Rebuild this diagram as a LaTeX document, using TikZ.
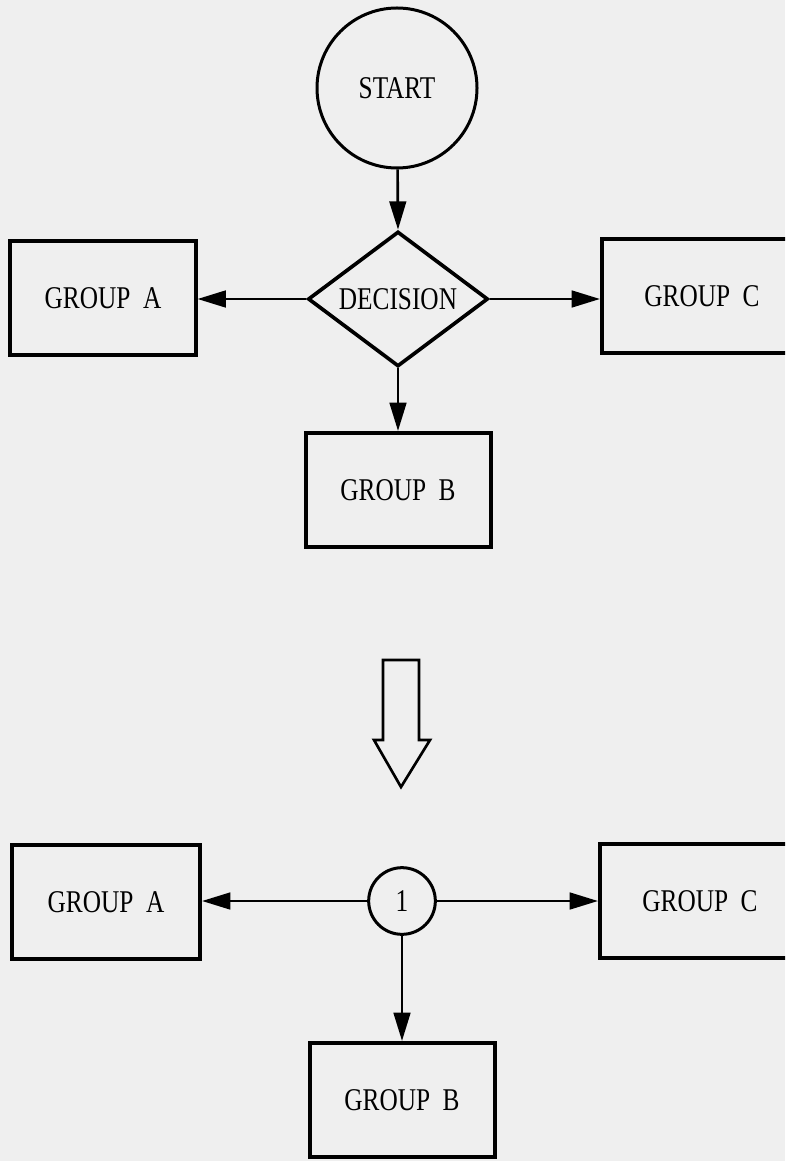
\documentclass[tikz,border=0pt]{standalone}
\usepackage{fontspec}
\setmainfont{Liberation Serif}
\newfontfamily\chartfont[FakeStretch=0.8]{Liberation Serif}
\usetikzlibrary{arrows.meta,positioning,shapes.geometric}
\definecolor{paper}{HTML}{EFEFEF}
\tikzset{group/.style={
  % The shape:
  rectangle,
  % The size:
  minimum width=5.55cm, minimum height=3.42cm,
  % The border:
  line width=1.2mm, draw=black,
  % Font:
  font=\chartfont\fontsize{27}{30}\selectfont,
  }
}
\tikzset{junction/.style={
  % The shape:
  circle,
  % The border:
  line width=0.9mm, draw=black,
  % Font:
  font=\chartfont\fontsize{27}{30}\selectfont,
  }
}
\tikzset{flow/.style={
  line width=0.8mm, -{Triangle[length=8.5mm,width=5mm]},
  }
}

\begin{document}
\begin{tikzpicture}[x=0.03cm,y=-0.03cm]
  \useasboundingbox (0,0) rectangle (785,1161);
  \fill[paper] (0,0) rectangle (785,1161);
  \clip (0,0) rectangle (785,1161);

  % Upper chart:
  \node (start) [junction,minimum size=4.8cm] at (397,88) {START};
  \node (decision) [diamond,draw,line width=1.1mm,inner sep=0pt,
        minimum width=5.4cm,minimum height=4.05cm,
        label={[font=\chartfont\fontsize{27}{30}\selectfont]center:DECISION}] at (398,299) {};
  \node (ga1) [group] at (103,298) {GROUP\ \ A};
  \node (gc1) [group,minimum width=6cm] at (702,296) {GROUP\ \ C};
  \node (gb1) [group] at (398,490) {GROUP\ \ B};

  \draw[flow] (start) -- (decision.north);
  \draw[flow] (decision.west) -- (ga1.east |- decision.west);
  \draw[flow] (decision.east) -- (gc1.west |- decision.east);
  \draw[flow] (decision.south) -- (gb1.north);

  % Hollow arrow between the two charts:
  \draw[line width=0.8mm,line join=miter,fill=paper]
    (383,660) -- (419,660) -- (419,740) -- (430,740) -- (401,787)
    -- (374,740) -- (383,740) -- cycle;

  % Lower chart:
  \node (n1) [junction,minimum size=2cm] at (402,901) {1};
  \node (ga2) [group,minimum width=5.64cm] at (106,902) {GROUP\ \ A};
  \node (gc2) [group,minimum width=6cm] at (700,901) {GROUP\ \ C};
  \node (gb2) [group] at (402,1100) {GROUP\ \ B};

  \draw[flow] (n1) -- (ga2.east |- n1);
  \draw[flow] (n1) -- (gc2.west |- n1);
  \draw[flow] (n1) -- (gb2.north);
\end{tikzpicture}
\end{document}
